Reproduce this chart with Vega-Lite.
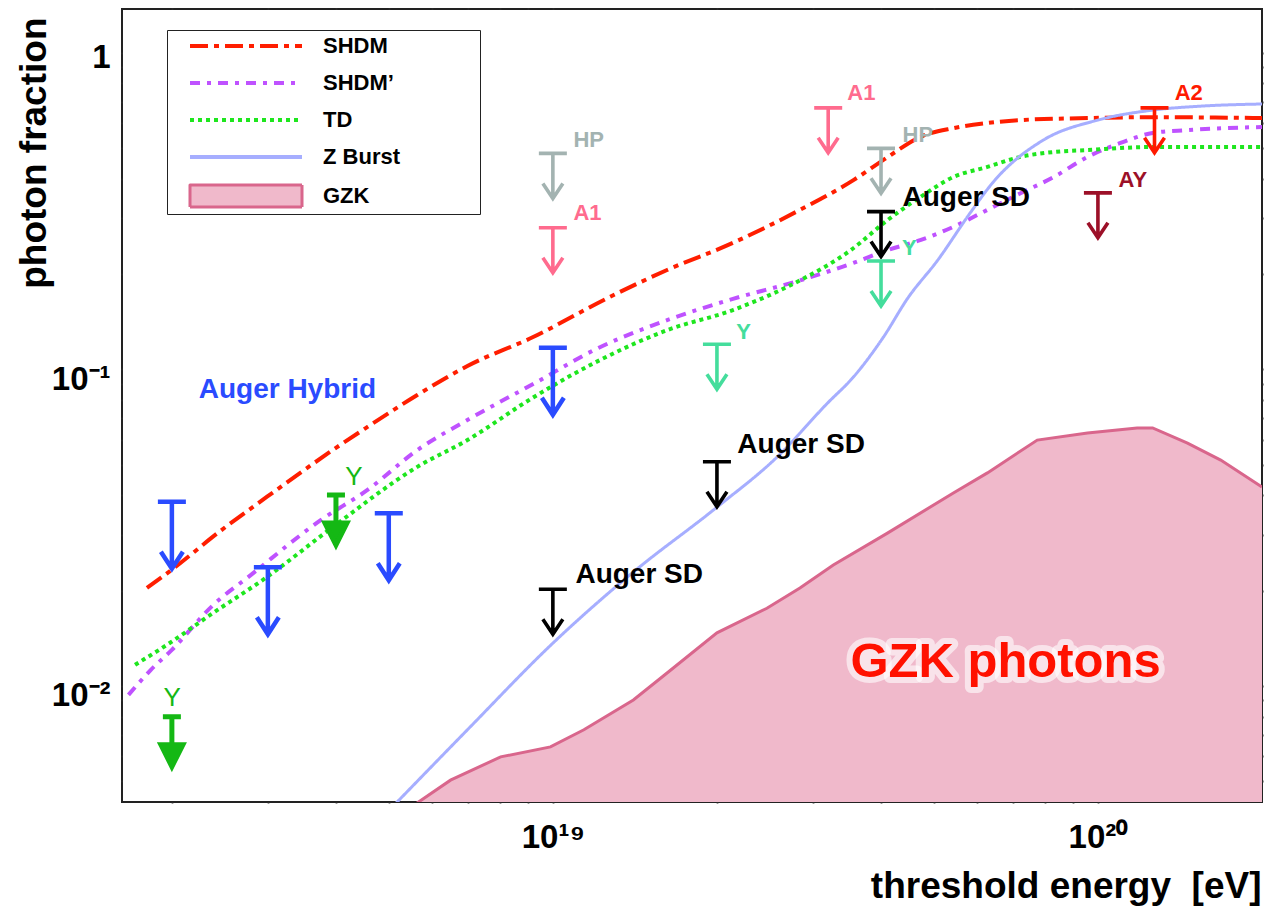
{
  "$schema": "https://vega.github.io/schema/vega-lite/v6.json",
  "width": 1140,
  "height": 793,
  "autosize": {"type": "none"},
  "padding": {"left": 122, "top": 9, "right": 3, "bottom": 107},
  "background": "white",
  "config": {
    "font": "Liberation Sans",
    "view": {"stroke": "#222222", "strokeWidth": 2}
  },
  "datasets": {
    "curves": [
      {"series": "SHDM", "E": 1.80e18, "f": 0.0204},
      {"series": "SHDM", "E": 2.0e18, "f": 0.0233},
      {"series": "SHDM", "E": 2.45e18, "f": 0.0308},
      {"series": "SHDM", "E": 2.99e18, "f": 0.0396},
      {"series": "SHDM", "E": 3.44e18, "f": 0.0471},
      {"series": "SHDM", "E": 3.95e18, "f": 0.0557},
      {"series": "SHDM", "E": 4.57e18, "f": 0.0658},
      {"series": "SHDM", "E": 5.64e18, "f": 0.0830},
      {"series": "SHDM", "E": 6.97e18, "f": 0.1025},
      {"series": "SHDM", "E": 9.2e18, "f": 0.1265},
      {"series": "SHDM", "E": 1.26e19, "f": 0.168},
      {"series": "SHDM", "E": 1.62e19, "f": 0.206},
      {"series": "SHDM", "E": 2.14e19, "f": 0.251},
      {"series": "SHDM", "E": 2.84e19, "f": 0.319},
      {"series": "SHDM", "E": 3.56e19, "f": 0.396},
      {"series": "SHDM", "E": 4.11e19, "f": 0.468},
      {"series": "SHDM", "E": 4.72e19, "f": 0.542},
      {"series": "SHDM", "E": 5.43e19, "f": 0.578},
      {"series": "SHDM", "E": 6.27e19, "f": 0.600},
      {"series": "SHDM", "E": 7.21e19, "f": 0.613},
      {"series": "SHDM", "E": 9.57e19, "f": 0.622},
      {"series": "SHDM", "E": 1.26e20, "f": 0.626},
      {"series": "SHDM", "E": 2.0e20, "f": 0.622},
      {"series": "SHDM’", "E": 1.665e18, "f": 0.00937},
      {"series": "SHDM’", "E": 1.83e18, "f": 0.01124},
      {"series": "SHDM’", "E": 2.0e18, "f": 0.0130},
      {"series": "SHDM’", "E": 2.38e18, "f": 0.0180},
      {"series": "SHDM’", "E": 2.79e18, "f": 0.0224},
      {"series": "SHDM’", "E": 3.75e18, "f": 0.0334},
      {"series": "SHDM’", "E": 4.57e18, "f": 0.0416},
      {"series": "SHDM’", "E": 5.64e18, "f": 0.0556},
      {"series": "SHDM’", "E": 6.97e18, "f": 0.0692},
      {"series": "SHDM’", "E": 9.2e18, "f": 0.0899},
      {"series": "SHDM’", "E": 1.22e19, "f": 0.1175},
      {"series": "SHDM’", "E": 1.62e19, "f": 0.143},
      {"series": "SHDM’", "E": 2.14e19, "f": 0.167},
      {"series": "SHDM’", "E": 2.84e19, "f": 0.191},
      {"series": "SHDM’", "E": 3.56e19, "f": 0.217},
      {"series": "SHDM’", "E": 4.11e19, "f": 0.238},
      {"series": "SHDM’", "E": 4.72e19, "f": 0.256},
      {"series": "SHDM’", "E": 5.43e19, "f": 0.282},
      {"series": "SHDM’", "E": 6.27e19, "f": 0.319},
      {"series": "SHDM’", "E": 7.21e19, "f": 0.360},
      {"series": "SHDM’", "E": 8.3e19, "f": 0.405},
      {"series": "SHDM’", "E": 9.57e19, "f": 0.469},
      {"series": "SHDM’", "E": 1.10e20, "f": 0.519},
      {"series": "SHDM’", "E": 1.26e20, "f": 0.558},
      {"series": "SHDM’", "E": 1.46e20, "f": 0.570},
      {"series": "SHDM’", "E": 2.0e20, "f": 0.583},
      {"series": "TD", "E": 1.712e18, "f": 0.01166},
      {"series": "TD", "E": 1.96e18, "f": 0.0135},
      {"series": "TD", "E": 2.38e18, "f": 0.0170},
      {"series": "TD", "E": 2.99e18, "f": 0.0221},
      {"series": "TD", "E": 3.95e18, "f": 0.0318},
      {"series": "TD", "E": 5.64e18, "f": 0.0492},
      {"series": "TD", "E": 6.97e18, "f": 0.0598},
      {"series": "TD", "E": 9.2e18, "f": 0.0815},
      {"series": "TD", "E": 1.22e19, "f": 0.107},
      {"series": "TD", "E": 1.62e19, "f": 0.133},
      {"series": "TD", "E": 2.14e19, "f": 0.154},
      {"series": "TD", "E": 2.84e19, "f": 0.191},
      {"series": "TD", "E": 3.52e19, "f": 0.238},
      {"series": "TD", "E": 4.11e19, "f": 0.296},
      {"series": "TD", "E": 4.72e19, "f": 0.350},
      {"series": "TD", "E": 5.43e19, "f": 0.405},
      {"series": "TD", "E": 6.27e19, "f": 0.436},
      {"series": "TD", "E": 7.21e19, "f": 0.469},
      {"series": "TD", "E": 8.3e19, "f": 0.486},
      {"series": "TD", "E": 9.57e19, "f": 0.493},
      {"series": "TD", "E": 1.26e20, "f": 0.504},
      {"series": "TD", "E": 2.0e20, "f": 0.504},
      {"series": "Z Burst", "E": 4.44e18, "f": 0.00327},
      {"series": "Z Burst", "E": 5.18e18, "f": 0.0043},
      {"series": "Z Burst", "E": 6.97e18, "f": 0.00727},
      {"series": "Z Burst", "E": 1.0e19, "f": 0.01365},
      {"series": "Z Burst", "E": 1.405e19, "f": 0.0229},
      {"series": "Z Burst", "E": 2.0e19, "f": 0.0367},
      {"series": "Z Burst", "E": 2.58e19, "f": 0.0529},
      {"series": "Z Burst", "E": 3.19e19, "f": 0.0782},
      {"series": "Z Burst", "E": 3.56e19, "f": 0.0946},
      {"series": "Z Burst", "E": 4.04e19, "f": 0.1264},
      {"series": "Z Burst", "E": 4.48e19, "f": 0.168},
      {"series": "Z Burst", "E": 5.08e19, "f": 0.221},
      {"series": "Z Burst", "E": 5.83e19, "f": 0.312},
      {"series": "Z Burst", "E": 6.43e19, "f": 0.391},
      {"series": "Z Burst", "E": 7.94e19, "f": 0.530},
      {"series": "Z Burst", "E": 1.0e20, "f": 0.613},
      {"series": "Z Burst", "E": 1.26e20, "f": 0.659},
      {"series": "Z Burst", "E": 1.56e20, "f": 0.679},
      {"series": "Z Burst", "E": 2.0e20, "f": 0.689}
    ],
    "gzk": [
      {"E": 5.25e18, "f": 0.00392},
      {"E": 5.67e18, "f": 0.0043},
      {"E": 6.49e18, "f": 0.00504},
      {"E": 8.02e18, "f": 0.00597},
      {"E": 9.9e18, "f": 0.00642},
      {"E": 1.14e19, "f": 0.00727},
      {"E": 1.405e19, "f": 0.00903},
      {"E": 1.62e19, "f": 0.01099},
      {"E": 2.0e19, "f": 0.01472},
      {"E": 2.47e19, "f": 0.0176},
      {"E": 2.84e19, "f": 0.0204},
      {"E": 3.27e19, "f": 0.0241},
      {"E": 4.11e19, "f": 0.0304},
      {"E": 5.43e19, "f": 0.0407},
      {"E": 6.27e19, "f": 0.0471},
      {"E": 7.74e19, "f": 0.0598},
      {"E": 9.57e19, "f": 0.0630},
      {"E": 1.18e20, "f": 0.0653},
      {"E": 1.26e20, "f": 0.0653},
      {"E": 1.46e20, "f": 0.0585},
      {"E": 1.68e20, "f": 0.0517},
      {"E": 2.0e20, "f": 0.0425}
    ],
    "limits": [
      {"group": "Auger Hybrid", "E": 2e18, "f": 0.0382},
      {"group": "Auger Hybrid", "E": 3e18, "f": 0.0237},
      {"group": "Auger Hybrid", "E": 5e18, "f": 0.0351},
      {"group": "Auger Hybrid", "E": 1e19, "f": 0.117},
      {"group": "Y-a", "E": 2e18, "f": 0.0080},
      {"group": "Y-a", "E": 4e18, "f": 0.0401},
      {"group": "Auger SD", "E": 1e19, "f": 0.0202},
      {"group": "Auger SD", "E": 2e19, "f": 0.0511},
      {"group": "Auger SD", "E": 4e19, "f": 0.315},
      {"group": "HP", "E": 1e19, "f": 0.481},
      {"group": "HP", "E": 4e19, "f": 0.499},
      {"group": "A1", "E": 1e19, "f": 0.280},
      {"group": "A1", "E": 3.2e19, "f": 0.670},
      {"group": "Y-b", "E": 2e19, "f": 0.120},
      {"group": "Y-b", "E": 4e19, "f": 0.220},
      {"group": "AY", "E": 1e20, "f": 0.361},
      {"group": "A2", "E": 1.27e20, "f": 0.670}
    ],
    "labels": [
      {"label": "Auger Hybrid", "group": "Auger Hybrid", "E": 2.24e18, "f": 0.0861},
      {"label": "Auger SD", "group": "Auger SD", "E": 1.10e19, "f": 0.02243},
      {"label": "Auger SD", "group": "Auger SD", "E": 2.18e19, "f": 0.0577},
      {"label": "Auger SD", "group": "Auger SD", "E": 4.38e19, "f": 0.3477},
      {"label": "HP", "group": "HP", "E": 1.091e19, "f": 0.530},
      {"label": "HP", "group": "HP", "E": 4.38e19, "f": 0.550},
      {"label": "A1", "group": "A1", "E": 1.091e19, "f": 0.312},
      {"label": "A1", "group": "A1", "E": 3.47e19, "f": 0.744},
      {"label": "A2", "group": "A2", "E": 1.383e20, "f": 0.748},
      {"label": "AY", "group": "AY", "E": 1.091e20, "f": 0.396},
      {"label": "Y", "group": "Y-b", "E": 2.17e19, "f": 0.1315},
      {"label": "Y", "group": "Y-b", "E": 4.37e19, "f": 0.2416},
      {"label": "Y", "group": "Y-a", "E": 1.93e18, "f": 0.00917},
      {"label": "Y", "group": "Y-a", "E": 4.16e18, "f": 0.0458}
    ],
    "notes": [
      {"label": "GZK photons", "E": 6.77e19, "f": 0.0119}
    ]
  },
  "layer": [
    {
      "encoding": {
        "x": {
          "field": "E", "type": "quantitative",
          "scale": {"type": "log", "domain": [1.62e18, 2e20], "nice": false, "zero": false},
          "axis": {
            "orient": "bottom",
            "values": [2e18, 3e18, 4e18, 5e18, 6e18, 7e18, 8e18, 9e18, 1e19, 2e19, 3e19, 4e19, 5e19, 6e19, 7e19, 8e19, 9e19, 1e20],
            "title": "threshold energy\u00a0 [eV]",
            "titleFont": "Liberation Sans", "titleFontSize": 37, "titleFontWeight": "bold", "titleColor": "#000000",
            "titleAnchor": "end", "titleAlign": "right", "titleBaseline": "alphabetic", "titleX": 1139, "titleY": 95,
            "labelExpr": "abs(datum.value/1e19 - 1) < 1e-6 ? '10¹⁹' : (abs(datum.value/1e20 - 1) < 1e-6 ? '10²⁰' : '')",
            "labelFont": "Liberation Sans", "labelFontSize": 33, "labelFontWeight": "bold", "labelColor": "#000000",
            "labelPadding": 18, "labelOverlap": false, "labelFlush": false, "labelBaseline": "top",
            "domain": false, "grid": false,
            "tickSize": 1, "tickColor": "#333333", "tickWidth": 1.8,
            "encode": {"ticks": {"update": {"y2": {"signal": "abs(log(datum.value)/LN10 - round(log(datum.value)/LN10)) < 0.001 ? -25 : -12.5"}}}}
          }
        },
        "y": {
          "field": "f", "type": "quantitative",
          "scale": {"type": "log", "domain": [0.0043, 1.375], "nice": false, "zero": false},
          "axis": {
            "orient": "left",
            "values": [0.005, 0.006, 0.007, 0.008, 0.009, 0.01, 0.02, 0.03, 0.04, 0.05, 0.06, 0.07, 0.08, 0.09, 0.1, 0.2, 0.3, 0.4, 0.5, 0.6, 0.7, 0.8, 0.9, 1],
            "title": "photon fraction",
            "titleFont": "Liberation Sans", "titleFontSize": 37, "titleFontWeight": "bold", "titleColor": "#000000",
            "titleAngle": -90, "titleAnchor": "end", "titleAlign": "right", "titleBaseline": "alphabetic", "titleX": -77, "titleY": 8,
            "labelExpr": "abs(datum.value - 1) < 1e-6 ? '1' : (abs(datum.value/0.1 - 1) < 1e-6 ? '10⁻¹' : (abs(datum.value/0.01 - 1) < 1e-6 ? '10⁻²' : ''))",
            "labelFont": "Liberation Sans", "labelFontSize": 33, "labelFontWeight": "bold", "labelColor": "#000000",
            "labelPadding": 11, "labelOverlap": false, "labelFlush": false, "labelBaseline": "alphabetic",
            "labelOffset": {"condition": {"test": "datum.value > 0.5", "value": 15}, "value": 20},
            "domain": false, "grid": false,
            "tickSize": 1, "tickColor": "#333333", "tickWidth": 1.8,
            "encode": {
              "ticks": {"update": {"x2": {"signal": "abs(log(datum.value)/LN10 - round(log(datum.value)/LN10)) < 0.001 ? 34 : 17"}}}
            }
          }
        }
      },
      "layer": [
        {
          "data": {"name": "gzk"},
          "mark": {"type": "area", "fill": "#f0b9cb", "clip": true},
          "encoding": {"y2": {"datum": 0.001}}
        },
        {
          "data": {"name": "gzk"},
          "mark": {"type": "line", "stroke": "#d9668c", "strokeWidth": 3, "clip": true},
          "encoding": {}
        },
        {
          "data": {"name": "curves"},
          "transform": [{"filter": "datum.series !== 'Z Burst'"}],
          "mark": {"type": "line", "strokeWidth": 4, "clip": true, "interpolate": "monotone"},
          "encoding": {
            "color": {
              "field": "series", "type": "nominal",
              "scale": {"domain": ["SHDM", "SHDM’", "TD", "Z Burst", "GZK"], "range": ["#ff1e00", "#bf52ff", "#1ee61e", "#a6aeff", "#d9668c"]},
              "legend": {
                "title": null, "orient": "none", "legendX": 45, "legendY": 21,
                "symbolType": "stroke", "symbolSize": 4, "symbolStrokeWidth": 4,
                "rowPadding": 15, "padding": 5, "symbolOffset": 63, "labelOffset": 66,
                "labelFont": "Liberation Sans", "labelFontSize": 22, "labelFontWeight": "bold", "labelColor": "#000000",
                "strokeColor": "#222222", "fillColor": "#ffffff",
                "encode": {"symbols": {"update": {
                  "shape": {"signal": "datum.value === 'GZK' ? 'M-56,-11H56V11H-56ZM227,0L227,0' : 'M-56,0H56'"},
                  "fill": {"signal": "datum.value === 'GZK' ? '#f0b9cb' : 'transparent'"},
                  "strokeWidth": {"signal": "datum.value === 'GZK' ? 3 : 4"},
                  "strokeJoin": {"value": "round"}
                }}}
              }
            },
            "strokeDash": {
              "field": "series", "type": "nominal",
              "scale": {"domain": ["SHDM", "SHDM’", "TD", "Z Burst", "GZK"], "range": [[18, 6, 5, 6], [10, 7, 4, 7], [4, 4], [1, 0], [1, 0]]},
              "legend": {
                "title": null, "orient": "none", "legendX": 45, "legendY": 21,
                "symbolType": "stroke", "symbolSize": 4, "symbolStrokeWidth": 4,
                "rowPadding": 15, "padding": 5, "symbolOffset": 63, "labelOffset": 66,
                "labelFont": "Liberation Sans", "labelFontSize": 22, "labelFontWeight": "bold", "labelColor": "#000000",
                "strokeColor": "#222222", "fillColor": "#ffffff",
                "encode": {"symbols": {"update": {
                  "shape": {"signal": "datum.value === 'GZK' ? 'M-56,-11H56V11H-56ZM227,0L227,0' : 'M-56,0H56'"},
                  "fill": {"signal": "datum.value === 'GZK' ? '#f0b9cb' : 'transparent'"},
                  "strokeWidth": {"signal": "datum.value === 'GZK' ? 3 : 4"},
                  "strokeJoin": {"value": "round"}
                }}}
              }
            }
          }
        },
        {
          "data": {"name": "curves"},
          "transform": [{"filter": "datum.series === 'Z Burst'"}],
          "mark": {"type": "line", "strokeWidth": 3, "clip": true, "interpolate": "monotone"},
          "encoding": {
            "color": {
              "field": "series", "type": "nominal",
              "scale": {"domain": ["SHDM", "SHDM’", "TD", "Z Burst", "GZK"], "range": ["#ff1e00", "#bf52ff", "#1ee61e", "#a6aeff", "#d9668c"]}
            },
            "strokeDash": {
              "field": "series", "type": "nominal",
              "scale": {"domain": ["SHDM", "SHDM’", "TD", "Z Burst", "GZK"], "range": [[18, 6, 5, 6], [10, 7, 4, 7], [4, 4], [1, 0], [1, 0]]}
            }
          }
        },
        {
          "data": {"name": "limits"},
          "transform": [{"filter": "datum.group === 'Auger Hybrid'"}],
          "mark": {"type": "point", "shape": "M-14,0H14M0,0V67M-11,50L0,67L11,50", "size": 4, "filled": false, "opacity": 1, "strokeWidth": 4.5},
          "encoding": {
            "stroke": {
              "field": "group", "type": "nominal",
              "scale": {"domain": ["Auger Hybrid", "Auger SD", "HP", "A1", "A2", "AY", "Y-b", "Y-a"], "range": ["#2a4bff", "#000000", "#a3b3b1", "#ff6b8e", "#ff1a00", "#9c1028", "#44dd9c", "#14b814"]},
              "legend": null
            }
          }
        },
        {
          "data": {"name": "limits"},
          "transform": [{"filter": "datum.group !== 'Auger Hybrid' && datum.group !== 'Y-a'"}],
          "mark": {"type": "point", "shape": "M-14,0H14M0,0V45M-10,30L0,45L10,30", "size": 4, "filled": false, "opacity": 1, "strokeWidth": 3.6},
          "encoding": {
            "stroke": {
              "field": "group", "type": "nominal",
              "scale": {"domain": ["Auger Hybrid", "Auger SD", "HP", "A1", "A2", "AY", "Y-b", "Y-a"], "range": ["#2a4bff", "#000000", "#a3b3b1", "#ff6b8e", "#ff1a00", "#9c1028", "#44dd9c", "#14b814"]},
              "legend": null
            }
          }
        },
        {
          "data": {"name": "limits"},
          "transform": [{"filter": "datum.group === 'Y-a'"}],
          "mark": {"type": "point", "shape": "M-9,0H9M0,0V30M-11,28L0,50L11,28Z", "size": 4, "filled": true, "opacity": 1, "fill": "#14b814", "stroke": "#14b814", "strokeWidth": 5},
          "encoding": {}
        },
        {
          "data": {"name": "labels"},
          "transform": [{"filter": "datum.group === 'Auger Hybrid' || datum.group === 'Auger SD'"}],
          "mark": {"type": "text", "align": "left", "baseline": "middle", "fontSize": 28, "fontWeight": "bold", "font": "Liberation Sans"},
          "encoding": {
            "text": {"field": "label"},
            "fill": {
              "field": "group", "type": "nominal",
              "scale": {"domain": ["Auger Hybrid", "Auger SD", "HP", "A1", "A2", "AY", "Y-b", "Y-a"], "range": ["#2a4bff", "#000000", "#a3b3b1", "#ff6b8e", "#ff1a00", "#9c1028", "#44dd9c", "#14b814"]},
              "legend": null
            }
          }
        },
        {
          "data": {"name": "labels"},
          "transform": [{"filter": "datum.group !== 'Auger Hybrid' && datum.group !== 'Auger SD' && datum.group !== 'Y-a'"}],
          "mark": {"type": "text", "align": "left", "baseline": "middle", "fontSize": 22, "fontWeight": "bold", "font": "Liberation Sans"},
          "encoding": {
            "text": {"field": "label"},
            "fill": {
              "field": "group", "type": "nominal",
              "scale": {"domain": ["Auger Hybrid", "Auger SD", "HP", "A1", "A2", "AY", "Y-b", "Y-a"], "range": ["#2a4bff", "#000000", "#a3b3b1", "#ff6b8e", "#ff1a00", "#9c1028", "#44dd9c", "#14b814"]},
              "legend": null
            }
          }
        },
        {
          "data": {"name": "labels"},
          "transform": [{"filter": "datum.group === 'Y-a'"}],
          "mark": {"type": "text", "align": "left", "baseline": "middle", "fontSize": 26, "fontWeight": "normal", "font": "Liberation Sans", "fill": "#14b814"},
          "encoding": {"text": {"field": "label"}}
        },
        {
          "data": {"name": "notes"},
          "mark": {"type": "text", "align": "center", "baseline": "middle", "fontSize": 49, "fontWeight": "bold", "font": "Liberation Sans", "fill": "#ffffff", "stroke": "#ffffff", "strokeWidth": 12, "strokeOpacity": 0.6, "strokeJoin": "round"},
          "encoding": {"text": {"field": "label"}}
        },
        {
          "data": {"name": "notes"},
          "mark": {"type": "text", "align": "center", "baseline": "middle", "fontSize": 49, "fontWeight": "bold", "font": "Liberation Sans", "fill": "#ff1100"},
          "encoding": {"text": {"field": "label"}}
        }
      ]
    },
    {
      "data": {"name": "gzk"},
      "mark": {"type": "point", "opacity": 0},
      "encoding": {
        "x": {
          "field": "E", "type": "quantitative",
          "scale": {"type": "log", "domain": [1.62e18, 2e20], "nice": false, "zero": false},
          "axis": {
            "orient": "top",
            "values": [2e18, 3e18, 4e18, 5e18, 6e18, 7e18, 8e18, 9e18, 1e19, 2e19, 3e19, 4e19, 5e19, 6e19, 7e19, 8e19, 9e19, 1e20],
            "labels": false, "title": null, "domain": false, "grid": false,
            "tickSize": 1, "tickColor": "#333333", "tickWidth": 1.8,
            "encode": {"ticks": {"update": {"y2": {"signal": "abs(log(datum.value)/LN10 - round(log(datum.value)/LN10)) < 0.001 ? 25 : 12.5"}}}}
          }
        },
        "y": {
          "field": "f", "type": "quantitative",
          "scale": {"type": "log", "domain": [0.0043, 1.375], "nice": false, "zero": false},
          "axis": {
            "orient": "right",
            "values": [0.005, 0.006, 0.007, 0.008, 0.009, 0.01, 0.02, 0.03, 0.04, 0.05, 0.06, 0.07, 0.08, 0.09, 0.1, 0.2, 0.3, 0.4, 0.5, 0.6, 0.7, 0.8, 0.9, 1],
            "labels": false, "title": null, "domain": false, "grid": false,
            "tickSize": 1, "tickColor": "#333333", "tickWidth": 1.8,
            "encode": {"ticks": {"update": {"x2": {"signal": "abs(log(datum.value)/LN10 - round(log(datum.value)/LN10)) < 0.001 ? -35 : -18"}}}}
          }
        }
      }
    }
  ],
  "resolve": {"axis": {"x": "independent", "y": "independent"}}
}
